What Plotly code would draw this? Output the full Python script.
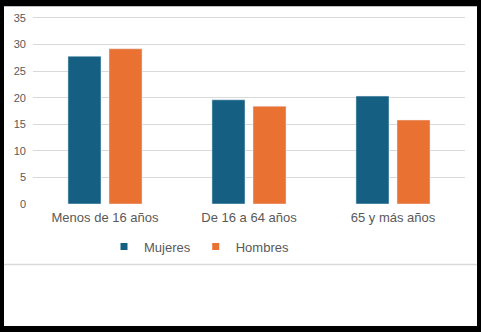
import plotly.graph_objects as go

categories = ["Menos de 16 años", "De 16 a 64 años", "65 y más años"]
mujeres = [27.8, 19.6, 20.3]
hombres = [29.2, 18.4, 15.8]
y_ticks = [0, 5, 10, 15, 20, 25, 30, 35]

C_M = "#156082"
C_H = "#E97132"
TXT = "#595959"
GRID = "#D9D9D9"
FONT = "Liberation Sans, Arial, sans-serif"

W, H = 481, 332
L, R, T, B = 33, 16, 12, 128
pw, ph = W - L - R, H - T - B
Y_TOP = 35 * ph / 189.0  # 35 lands 189 px above the baseline

def px_x(p):
    return (p - L) / pw

def px_y(p):
    return (H - B - p) / ph

fig = go.Figure()
fig.add_trace(go.Bar(x=categories, y=mujeres, name="Mujeres", marker_color=C_M,
                     showlegend=False))
fig.add_trace(go.Bar(x=categories, y=hombres, name="Hombres", marker_color=C_H,
                     showlegend=False))
# legend entries with small square markers
fig.add_trace(go.Scatter(x=[None], y=[None], mode="markers", name="Mujeres",
                         marker=dict(symbol="square", size=7, color=C_M)))
fig.add_trace(go.Scatter(x=[None], y=[None], mode="markers", name="Hombres",
                         marker=dict(symbol="square", size=7, color=C_H)))

shapes = [
    dict(type="rect", xref="paper", yref="paper", layer="below",
         x0=px_x(4), x1=px_x(477), y0=px_y(328), y1=px_y(3),
         fillcolor="white", line=dict(width=0)),
    dict(type="line", xref="paper", yref="paper", layer="below",
         x0=px_x(4), x1=px_x(477), y0=px_y(265.5), y1=px_y(265.5),
         line=dict(color=GRID, width=1.5)),
]

fig.update_layout(
    width=W, height=H, autosize=False,
    margin=dict(l=L, r=R, t=T, b=B),
    paper_bgcolor="black",
    plot_bgcolor="rgba(0,0,0,0)",
    barmode="group", bargap=0.43, bargroupgap=0.195,
    font=dict(family=FONT, color=TXT),
    shapes=shapes,
    legend=dict(orientation="h", x=px_x(104), y=px_y(232), xanchor="left", yanchor="top",
                font=dict(size=13, color=TXT, family=FONT),
                bgcolor="rgba(0,0,0,0)", itemwidth=30, tracegroupgap=0),
    xaxis=dict(showgrid=False, zeroline=False, showline=False, ticks="",
               tickfont=dict(size=13, color=TXT, family=FONT), ticklabelstandoff=4),
    yaxis=dict(range=[0, Y_TOP], tickvals=y_ticks, showgrid=True, gridcolor=GRID,
               gridwidth=1, zeroline=False, showline=False, ticks="",
               tickfont=dict(size=11, color=TXT, family=FONT), ticklabelstandoff=6),
)

fig.write_html("out.html")
